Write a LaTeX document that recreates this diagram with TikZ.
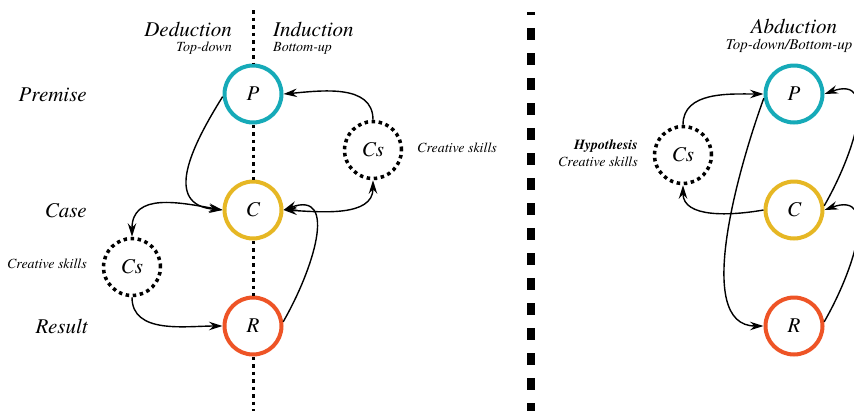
\documentclass[tikz,border=0pt]{standalone}
\usepackage{fontspec}
\IfFontExistsTF{texgyretermes-regular.otf}{%
  \setmainfont{texgyretermes}[Extension=.otf,UprightFont=*-regular,
    ItalicFont=*-italic,BoldFont=*-bold,BoldItalicFont=*-bolditalic]}{%
  \setmainfont{Liberation Serif}}
\usetikzlibrary{arrows.meta}

\definecolor{premcol}{RGB}{22,170,184}
\definecolor{casecol}{RGB}{230,183,36}
\definecolor{rescol}{RGB}{238,84,38}

\begin{document}
\begin{tikzpicture}[x=1pt,y=-1pt,
  tip/.tip={Stealth[length=13.5pt,width=8.5pt,inset=4.5pt]},
  stage/.style={circle,draw,line width=4pt,minimum size=57pt,inner sep=0pt,
    fill=white,font=\fontsize{21}{21}\selectfont\itshape},
  skill/.style={circle,draw,line width=3.5pt,dash pattern=on 3.5pt off 3.6pt,
    minimum size=57pt,inner sep=0pt,fill=white,font=\fontsize{21}{21}\selectfont\itshape},
  heading/.style={inner sep=0pt,font=\fontsize{21}{21}\selectfont\itshape},
  note/.style={inner sep=0pt,font=\fontsize{14}{14}\selectfont\itshape},
  axis/.style={line width=3pt,dash pattern=on 3.5pt off 4pt},
  divider/.style={line width=8pt,dash pattern=on 12pt off 13pt,dash phase=9pt},
  link/.style={line width=1.4pt,-tip},
  twoway/.style={line width=1.4pt,tip-tip},
  loop/.style={out=60,in=20,looseness=1.35}
]
\useasboundingbox (0,0) rectangle (854,410);
\clip (0,0) rectangle (854,410);

% ---------- deduction / induction ----------
\coordinate (axtop) at (253,10);
\coordinate (axbot) at (253,412);
\node[stage,draw=premcol] (P) at (253,94) {P};
\node[stage,draw=casecol] (C) at (253,210) {C};
\node[stage,draw=rescol]  (R) at (253,326) {R};
\node[skill] (csr) at (373,150) {Cs};
\node[skill] (csl) at (132,267) {Cs};

\draw[axis] (axtop) -- (P.north);
\draw[axis] (P.south) -- (C.north);
\draw[axis] (C.south) -- (R.north);
\draw[axis] (R.south) -- (axbot);

\node[heading,anchor=base east] (ded) at (232,36) {Deduction};
\node[note,anchor=base east] (td) at (232,51) {Top-down};
\node[heading,anchor=base west] (ind) at (273,36) {Induction};
\node[note,anchor=base west] (bu) at (273,51) {Bottom-up};

\node[heading,anchor=base east] (prem) at (87,101) {Premise};
\node[heading,anchor=base east] (case) at (87,217) {Case};
\node[heading,anchor=base east] (res) at (88,333) {Result};
\node[note,anchor=base east] (skl) at (87,268) {Creative skills};
\node[note,anchor=base west] (skr) at (417,152) {Creative skills};

\draw[link] (P.185) to[out=238,in=175,looseness=1.35] (C.west);
\draw[twoway] (C.west) to[out=170,in=90,looseness=1.2] (csl.north);
\draw[link] (csl.south) to[out=-90,in=180] (R.west);
\draw[link] (R.8) to[loop] (C.east);
\draw[twoway] (C.east) to[out=-3,in=-90] (csr.south);
\draw[link] (csr.north) to[out=90,in=5] (P.east);

% ---------- separator ----------
\coordinate (divtop) at (531,12);
\coordinate (divbot) at (531,412);
\draw[divider] (divtop) -- (divbot);

% ---------- abduction ----------
\node[stage,draw=premcol] (P2) at (794,94) {P};
\node[stage,draw=casecol] (C2) at (794,210) {C};
\node[stage,draw=rescol]  (R2) at (794,326) {R};
\node[skill] (cs2) at (683,155) {Cs};

\node[heading,anchor=base] (abd) at (794,33) {Abduction};
\node[note,anchor=base,font=\fontsize{15}{15}\selectfont\itshape] (tdbu) at (789,49) {Top-down/Bottom-up};
\node[note,anchor=base east,font=\fontsize{14}{14}\selectfont\itshape\bfseries] (hyp) at (638,149) {Hypothesis};
\node[note,anchor=base east] (sk2) at (638,166) {Creative skills};

\draw[link] (cs2.north) to[out=90,in=180] (P2.west);
\draw[link] (P2.188) to[out=250,in=180,looseness=0.8] (R2.west);
\draw[link] (C2.west) to[out=190,in=-90] (cs2.south);
\draw[link] (C2.8) to[loop] (P2.east);
\draw[link] (R2.8) to[loop] (C2.east);
\end{tikzpicture}
\end{document}
